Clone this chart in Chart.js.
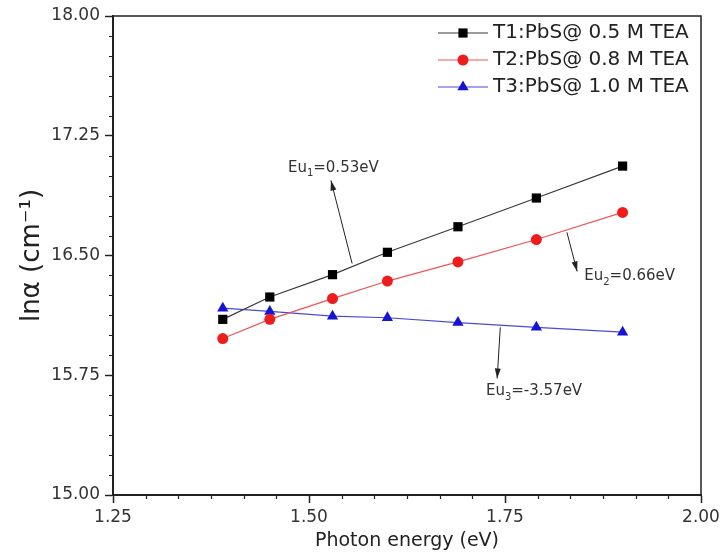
<!DOCTYPE html>
<html lang="en">
<head>
  <meta charset="UTF-8">
  <title>ln alpha vs photon energy</title>
  <script src="https://cdn.jsdelivr.net/npm/chart.js"></script>
  <style>
    html, body { margin: 0; padding: 0; background: #fff; }
    canvas { display: block; }
  </style>
</head>
<body>
  <canvas id="myChart" width="722" height="554"></canvas>

  <script>
    // values
    const energy = [1.39, 1.45, 1.53, 1.60, 1.69, 1.79, 1.90];
    const t1 = [16.10, 16.24, 16.38, 16.52, 16.68, 16.86, 17.06];
    const t2 = [15.98, 16.10, 16.23, 16.34, 16.46, 16.60, 16.77];
    const t3 = [16.17, 16.15, 16.12, 16.11, 16.08, 16.05, 16.02];
    const seriesNames = ['T1:PbS@ 0.5 M TEA', 'T2:PbS@ 0.8 M TEA', 'T3:PbS@ 1.0 M TEA'];
    const xTicks = [1.25, 1.50, 1.75, 2.00];
    const yTicks = [15.00, 15.75, 16.50, 17.25, 18.00];

    // Urbach energy notes: subscript, value, text centre, arrow start, arrow tip (data units)
    const notes = [
      { sub: '1', val: '=0.53eV', at: [1.531, 17.05], from: [1.555, 16.45], to: [1.528, 16.97] },
      { sub: '2', val: '=0.66eV', at: [1.909, 16.37], from: [1.829, 16.645], to: [1.842, 16.40] },
      { sub: '3', val: '=-3.57eV', at: [1.787, 15.65], from: [1.744, 16.05], to: [1.740, 15.73] }
    ];

    const FONT = 'DejaVu Sans';
    const colors = ['#000000', '#ee1c1c', '#1414d2'];
    const lineColors = ['#3a3a3a', '#ee5555', '#4a4ad8'];
    const styles = ['rect', 'circle', 'triangle'];
    const radii = [6.5, 5.5, 6.5];

    function marker(c, style, x, y, r, color) {
      c.fillStyle = color;
      c.beginPath();
      if (style === 'rect') {
        const s = r * Math.SQRT1_2;
        c.rect(x - s, y - s, 2 * s, 2 * s);
      } else if (style === 'circle') {
        c.arc(x, y, r, 0, Math.PI * 2);
      } else {
        c.moveTo(x, y - r);
        c.lineTo(x + r * 0.866, y + r * 0.5);
        c.lineTo(x - r * 0.866, y + r * 0.5);
        c.closePath();
      }
      c.fill();
    }

    const extras = {
      id: 'extras',
      afterDraw(chart) {
        const c = chart.ctx;
        const a = chart.chartArea;
        const sx = chart.scales.x, sy = chart.scales.y;
        c.save();

        // frame
        c.strokeStyle = '#222';
        c.lineWidth = 1.5;
        c.strokeRect(a.left, a.top, a.right - a.left, a.bottom - a.top);

        // minor ticks
        c.lineWidth = 1.2;
        c.beginPath();
        for (let i = 1; i < 18; i++) {
          if (i % 6 === 0) continue;
          const px = Math.round(sx.getPixelForValue(1.25 + i * 0.25 / 6)) + 0.5;
          c.moveTo(px, a.bottom);
          c.lineTo(px, a.bottom + 4);
        }
        for (let i = 1; i < 24; i++) {
          if (i % 6 === 0) continue;
          const py = Math.round(sy.getPixelForValue(15 + i * 0.125)) + 0.5;
          c.moveTo(a.left - 4, py);
          c.lineTo(a.left, py);
        }
        c.stroke();

        // legend
        c.font = '20px "' + FONT + '"';
        c.textBaseline = 'middle';
        c.textAlign = 'left';
        seriesNames.forEach((name, i) => {
          const y = 33 + i * 27;
          c.strokeStyle = lineColors[i];
          c.lineWidth = 1.2;
          c.beginPath();
          c.moveTo(438, y);
          c.lineTo(488, y);
          c.stroke();
          marker(c, styles[i], 463, y, radii[i], colors[i]);
          c.fillStyle = '#222';
          c.fillText(name, 493, y);
        });

        // notes with arrows
        notes.forEach(n => {
          const x0 = sx.getPixelForValue(n.from[0]), y0 = sy.getPixelForValue(n.from[1]);
          const x1 = sx.getPixelForValue(n.to[0]), y1 = sy.getPixelForValue(n.to[1]);
          c.strokeStyle = '#222';
          c.fillStyle = '#222';
          c.lineWidth = 1;
          c.beginPath();
          c.moveTo(x0, y0);
          c.lineTo(x1, y1);
          c.stroke();
          const ang = Math.atan2(y1 - y0, x1 - x0);
          c.beginPath();
          c.moveTo(x1, y1);
          c.lineTo(x1 - 10 * Math.cos(ang) + 3 * Math.sin(ang), y1 - 10 * Math.sin(ang) - 3 * Math.cos(ang));
          c.lineTo(x1 - 10 * Math.cos(ang) - 3 * Math.sin(ang), y1 - 10 * Math.sin(ang) + 3 * Math.cos(ang));
          c.closePath();
          c.fill();

          const big = '15px "' + FONT + '"', small = '10px "' + FONT + '"';
          c.font = big;
          const w1 = c.measureText('Eu').width, w3 = c.measureText(n.val).width;
          c.font = small;
          const w2 = c.measureText(n.sub).width;
          let tx = sx.getPixelForValue(n.at[0]) - (w1 + w2 + w3) / 2;
          const ty = sy.getPixelForValue(n.at[1]);
          c.fillStyle = '#333';
          c.font = big;
          c.fillText('Eu', tx, ty);
          tx += w1;
          c.font = small;
          c.fillText(n.sub, tx, ty + 6);
          tx += w2;
          c.font = big;
          c.fillText(n.val, tx, ty);
        });
        c.restore();
      }
    };

    const ctx = document.getElementById('myChart').getContext('2d');
    new Chart(ctx, {
      type: 'scatter',
      data: {
        datasets: [t1, t2, t3].map((vals, i) => ({
          label: seriesNames[i],
          data: energy.map((x, k) => ({ x: x, y: vals[k] })),
          showLine: true,
          borderColor: lineColors[i],
          borderWidth: 1.2,
          pointStyle: styles[i],
          pointRadius: radii[i],
          pointBackgroundColor: colors[i],
          pointBorderColor: colors[i],
          pointBorderWidth: 0
        }))
      },
      options: {
        responsive: false,
        animation: false,
        layout: { padding: { top: 16, right: 21, left: 0, bottom: 0 } },
        plugins: {
          legend: { display: false },
          tooltip: { enabled: false }
        },
        scales: {
          x: {
            type: 'linear',
            min: 1.25,
            max: 2.0,
            afterBuildTicks: s => { s.ticks = xTicks.map(v => ({ value: v })); },
            afterFit: s => { s.height = 59; s.paddingLeft = 0; s.paddingRight = 0; },
            grid: { drawOnChartArea: false, tickLength: 8, tickColor: '#222', tickWidth: 1.5 },
            border: { color: '#222', width: 2 },
            ticks: {
              color: '#333',
              font: { family: FONT, size: 17 },
              padding: 4,
              maxRotation: 0,
              callback: v => Number(v).toFixed(2)
            },
            title: {
              display: true,
              text: 'Photon energy (eV)',
              color: '#222',
              font: { family: FONT, size: 19 },
              padding: { top: 0, bottom: 2 }
            }
          },
          y: {
            type: 'linear',
            min: 15,
            max: 18,
            afterBuildTicks: s => { s.ticks = yTicks.map(v => ({ value: v })); },
            afterFit: s => { s.width = 113; s.paddingTop = 0; s.paddingBottom = 0; },
            grid: { drawOnChartArea: false, tickLength: 8, tickColor: '#222', tickWidth: 1.5 },
            border: { color: '#222', width: 2 },
            ticks: {
              color: '#333',
              font: { family: FONT, size: 17 },
              padding: 5,
              callback: v => Number(v).toFixed(2)
            },
            title: {
              display: true,
              text: 'lnα (cm⁻¹)',
              color: '#222',
              font: { family: FONT, size: 26 },
              padding: { top: 17, bottom: 0 }
            }
          }
        }
      },
      plugins: [extras]
    });
  </script>
</body>
</html>
